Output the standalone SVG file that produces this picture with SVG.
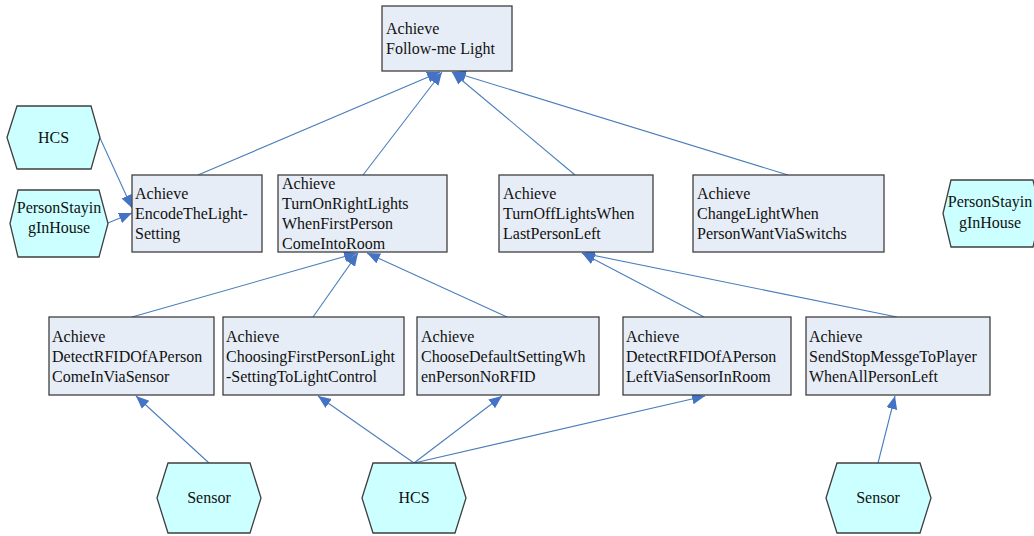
<svg xmlns="http://www.w3.org/2000/svg" width="1034" height="536" viewBox="0 0 1034 536">
  <defs>
    <style>
      .goal { fill: #e7edf7; stroke: #3f3f3f; stroke-width: 1.3; }
      .agent { fill: #ccffff; stroke: #3f3f3f; stroke-width: 1.3; }
      .mid { text-anchor: middle; }
      .link { fill: none; stroke: #4a7ebb; stroke-width: 1.1; marker-end: url(#arrow); }
    </style>
    <marker id="arrow" markerUnits="userSpaceOnUse" markerWidth="14" markerHeight="12" refX="13" refY="5.5" orient="auto">
      <path d="M0,0 L13,5.5 L0,11 z" fill="#4472c4"/>
    </marker>
  </defs>

  <rect width="1034" height="536" fill="#ffffff"/>

  <!-- connectors -->
  <g id="connectors">
    <line class="link" x1="198" y1="175" x2="440" y2="72"/>
    <line class="link" x1="363" y1="175" x2="442" y2="72"/>
    <line class="link" x1="575" y1="175" x2="452" y2="72"/>
    <line class="link" x1="788" y1="175" x2="453" y2="72"/>
    <line class="link" x1="100" y1="138" x2="132" y2="208"/>
    <line class="link" x1="108" y1="223" x2="132" y2="213"/>
    <line class="link" x1="132" y1="317" x2="357" y2="253"/>
    <line class="link" x1="313" y1="317" x2="358" y2="253"/>
    <line class="link" x1="507" y1="317" x2="367" y2="253"/>
    <line class="link" x1="704" y1="317" x2="582" y2="253"/>
    <line class="link" x1="897" y1="317" x2="582" y2="253"/>
    <line class="link" x1="209" y1="463" x2="136" y2="396"/>
    <line class="link" x1="414" y1="463" x2="318" y2="396"/>
    <line class="link" x1="414" y1="463" x2="502" y2="396"/>
    <line class="link" x1="414" y1="463" x2="705" y2="396"/>
    <line class="link" x1="878" y1="463" x2="895" y2="396"/>
  </g>

  <g font-family="Liberation Serif" font-size="16" fill="#111111">
  <!-- top goal -->
  <g id="g-follow-me">
    <rect class="goal" x="382" y="6" width="130" height="65"/>
    <text x="386" y="34">Achieve</text>
    <text x="386" y="54">Follow-me Light</text>
  </g>

  <!-- second level goals -->
  <g id="g-encode">
    <rect class="goal" x="132" y="175" width="130" height="77"/>
    <text x="135" y="199">Achieve</text>
    <text x="135" y="219">EncodeTheLight-</text>
    <text x="135" y="239">Setting</text>
  </g>
  <g id="g-turn-on">
    <rect class="goal" x="278" y="175" width="169" height="77"/>
    <text x="282" y="189">Achieve</text>
    <text x="282" y="209">TurnOnRightLights</text>
    <text x="282" y="229">WhenFirstPerson</text>
    <text x="282" y="249">ComeIntoRoom</text>
  </g>
  <g id="g-turn-off">
    <rect class="goal" x="499" y="175" width="154" height="77"/>
    <text x="503" y="199">Achieve</text>
    <text x="503" y="219">TurnOffLightsWhen</text>
    <text x="503" y="239">LastPersonLeft</text>
  </g>
  <g id="g-change">
    <rect class="goal" x="693" y="175" width="191" height="77"/>
    <text x="697" y="199">Achieve</text>
    <text x="697" y="219">ChangeLightWhen</text>
    <text x="697" y="239">PersonWantViaSwitchs</text>
  </g>

  <!-- third level goals -->
  <g id="g-detect-in">
    <rect class="goal" x="49" y="317" width="165" height="78"/>
    <text x="52" y="342">Achieve</text>
    <text x="52" y="362">DetectRFIDOfAPerson</text>
    <text x="52" y="382">ComeInViaSensor</text>
  </g>
  <g id="g-choosing">
    <rect class="goal" x="223" y="317" width="181" height="78"/>
    <text x="226" y="342">Achieve</text>
    <text x="226" y="362">ChoosingFirstPersonLight</text>
    <text x="226" y="382">-SettingToLightControl</text>
  </g>
  <g id="g-default">
    <rect class="goal" x="417" y="317" width="182" height="78"/>
    <text x="421" y="342">Achieve</text>
    <text x="421" y="362">ChooseDefaultSettingWh</text>
    <text x="421" y="382">enPersonNoRFID</text>
  </g>
  <g id="g-detect-left">
    <rect class="goal" x="623" y="317" width="168" height="78"/>
    <text x="626" y="342">Achieve</text>
    <text x="626" y="362">DetectRFIDOfAPerson</text>
    <text x="626" y="382">LeftViaSensorInRoom</text>
  </g>
  <g id="g-send-stop">
    <rect class="goal" x="806" y="317" width="184" height="78"/>
    <text x="809" y="342">Achieve</text>
    <text x="809" y="362">SendStopMessgeToPlayer</text>
    <text x="809" y="382">WhenAllPersonLeft</text>
  </g>

  <!-- agents -->
  <g id="a-hcs-left">
    <polygon class="agent" points="7,137.5 17,106 91,106 100,137.5 91,169 17,169"/>
    <text class="mid" x="53.5" y="143">HCS</text>
  </g>
  <g id="a-person-left">
    <polygon class="agent" points="10,223.5 18,190 99,190 108,223.5 99,257 18,257"/>
    <text class="mid" x="59" y="213">PersonStayin</text>
    <text class="mid" x="59" y="233">gInHouse</text>
  </g>
  <g id="a-person-right">
    <polygon class="agent" points="943,213.5 951,180 1033,180 1041,213.5 1033,247 951,247"/>
    <text class="mid" x="990" y="207">PersonStayin</text>
    <text class="mid" x="990" y="228">gInHouse</text>
  </g>
  <g id="a-sensor-left">
    <polygon class="agent" points="157,498 168,463 250,463 261,498 250,533 168,533"/>
    <text class="mid" x="209" y="503">Sensor</text>
  </g>
  <g id="a-hcs-bottom">
    <polygon class="agent" points="362,498 373,463 455,463 466,498 455,533 373,533"/>
    <text class="mid" x="414" y="503">HCS</text>
  </g>
  <g id="a-sensor-right">
    <polygon class="agent" points="826,498 837,463 920,463 931,498 920,533 837,533"/>
    <text class="mid" x="878" y="503">Sensor</text>
  </g>
  </g>
</svg>
